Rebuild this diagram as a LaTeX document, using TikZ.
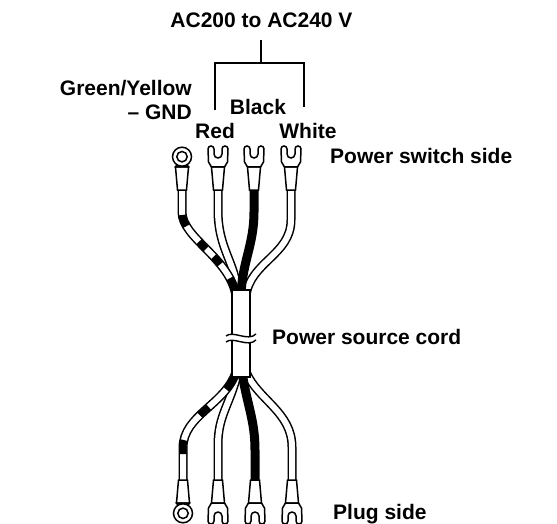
\documentclass[tikz,border=0pt]{standalone}
\usepackage{fontspec}
\setmainfont{Liberation Sans}

\begin{document}
\begin{tikzpicture}[x=1pt,y=-1pt,
  lbl/.style={font=\fontsize{21}{24}\selectfont\bfseries, inner sep=0pt},
  wire/.style={draw=black, line width=1.5pt, double=white, double distance=6pt},
  blackwire/.style={draw=black, line width=9pt},
  stripe/.style={draw=black, line width=7pt},
  part/.style={draw=black, fill=white, line width=1.5pt},
  ring/.pic={
    \path[part] (-4.5,0) -- (-6.5,-23) -- (6.5,-23) -- (4.5,0) -- cycle;
    \path[part] (-6.5,-23) -- (-4,-27) -- (4,-27) -- (6.5,-23) -- cycle;
    \path[part] (0,-33.3) circle (9.5);
    \path[part] (0,-33.3) circle (5.2);
  },
  fork/.pic={
    \path[part] (-4.5,0) -- (-6.5,-23) -- (6.5,-23) -- (4.5,0) -- cycle;
    \path[part] (-6.5,-23) -- (-9.5,-28) -- (-10,-41)
      arc[start angle=180, end angle=360, radius=3] -- (-4,-36)
      arc[start angle=180, end angle=0, radius=4] -- (4,-41)
      arc[start angle=180, end angle=360, radius=3] -- (9.5,-28) -- (6.5,-23) -- cycle;
  }]
\useasboundingbox (0,0) rectangle (557,524);

% labels
\node[lbl] (volt) at (261.5,20) {AC200 to AC240 V};
\node[lbl, align=right, anchor=east] (gnd) at (192,100) {Green/Yellow\\– GND};
\node[lbl] (black) at (258,107) {Black};
\node[lbl] (red) at (215,131) {Red};
\node[lbl] (white) at (308,131) {White};
\node[lbl, anchor=west] (switch) at (330,156) {Power switch side};
\node[lbl, anchor=west] (cordlbl) at (272,337) {Power source cord};
\node[lbl, anchor=west] (plug) at (333,514) {Plug side};

% bracket
\coordinate (hub) at (261,63);
\coordinate (redEnd) at (215,110);
\coordinate (whiteEnd) at (304,107);
\draw[line width=1.4pt] (261,40) -- (hub);
\draw[line width=1.4pt] (redEnd) |- (whiteEnd |- hub) -- (whiteEnd);

% terminal ends of the wires
\coordinate (gT) at (182,190);
\coordinate (rT) at (218,190);
\coordinate (bT) at (254,190);
\coordinate (wT) at (291,190);
\coordinate (gB) at (183,480);
\coordinate (rB) at (218,480);
\coordinate (bB) at (255,480);
\coordinate (wB) at (292,480);

% upper wires
\draw[wire] (wT) -- (291,220) .. controls (291,255) and (250,262) .. (246,296);
\draw[wire] (rT) -- (218,210) .. controls (218,250) and (236,262) .. (238,296);
\draw[wire] (gT) -- (182,212) .. controls (182,238) and (230,258) .. (236,296);
\draw[stripe, dash pattern=on 0pt off 25pt on 12pt off 20pt on 10pt off 11pt on 10pt off 17pt on 40pt]
  (gT) -- (182,212) .. controls (182,238) and (230,258) .. (236,296);
\draw[blackwire] (bT) -- (254,212) .. controls (254,245) and (242,262) .. (241,296);

% lower wires
\draw[wire] (246,372) .. controls (258,400) and (292,412) .. (292,447) -- (wB);
\draw[wire] (238,372) .. controls (230,405) and (218,415) .. (218,445) -- (rB);
\draw[wire] (236,372) .. controls (225,405) and (183,415) .. (183,448) -- (gB);
\draw[stripe, dash pattern=on 20pt off 25pt on 12pt off 30pt on 14pt off 100pt]
  (236,372) .. controls (225,405) and (183,415) .. (183,448) -- (gB);
\draw[blackwire] (242,372) .. controls (247,405) and (255,420) .. (255,450) -- (bB);

% cord with break
\node[draw, fill=white, line width=1.5pt, minimum width=18pt, minimum height=87pt,
  inner sep=0pt] (cord) at (241,333.5) {};
\fill[white] (226,336) .. controls (233,330) and (248,342) .. (256,334)
  -- (256,340) .. controls (248,348) and (233,336) .. (226,342) -- cycle;
\draw[line width=1.4pt] (226,336) .. controls (233,330) and (248,342) .. (256,334);
\draw[line width=1.4pt] (226,342) .. controls (233,336) and (248,348) .. (256,340);

% terminals
\pic at (gT) {ring};
\pic at (rT) {fork};
\pic at (bT) {fork};
\pic at (wT) {fork};
\pic[yscale=-1] at (gB) {ring};
\pic[yscale=-1] at (rB) {fork};
\pic[yscale=-1] at (bB) {fork};
\pic[yscale=-1] at (wB) {fork};
\end{tikzpicture}
\end{document}
